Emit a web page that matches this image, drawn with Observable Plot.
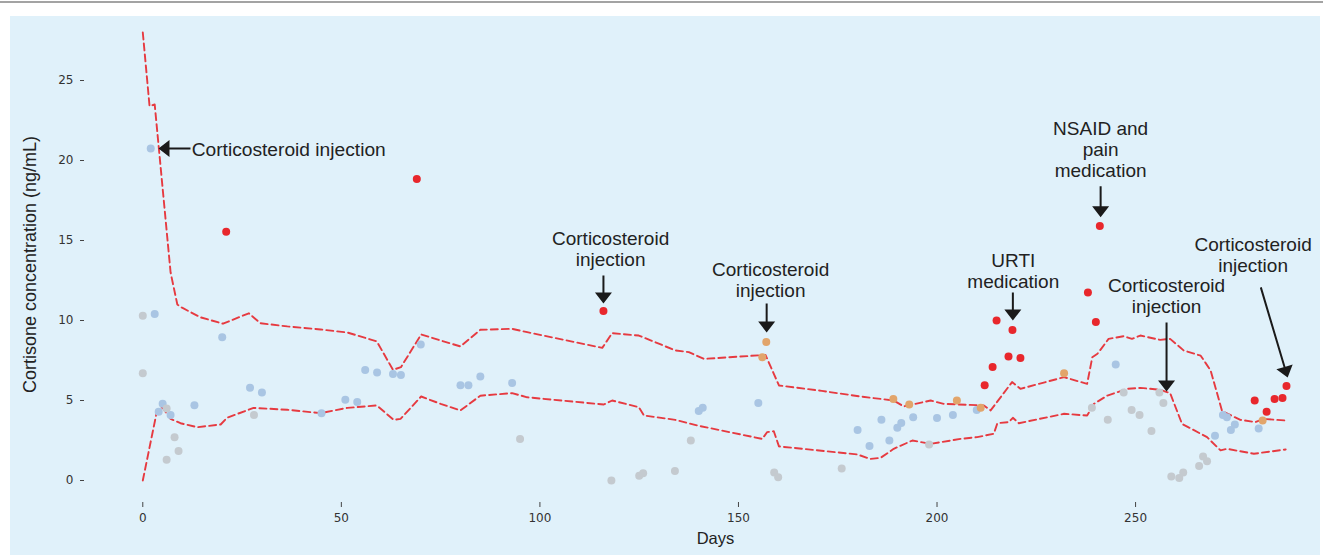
<!DOCTYPE html>
<html>
<head>
<meta charset="utf-8">
<script src="https://cdn.jsdelivr.net/npm/d3@7"></script>
<script src="https://cdn.jsdelivr.net/npm/@observablehq/plot@0.6"></script>
<style>
  html, body { margin: 0; padding: 0; background: #ffffff; }
  #rule { position: absolute; left: 0; top: 1px; width: 1323px; height: 2px; background: #a3a3a3; }
  #panel { position: absolute; left: 10px; top: 16px; width: 1310px; height: 539px; background: #e0f1fa; }
</style>
</head>
<body>
<div id="rule"></div>
<div id="panel"></div>
<script>
// Cortisone concentration (ng/mL) by day, grouped by sample status
const routineDay  = [2, 3, 4, 5, 7, 13, 20, 27, 30, 45, 51, 54, 56, 59, 63, 65, 70, 80, 82, 85, 93, 140, 141, 155, 180, 183, 186, 188, 190, 191, 194, 200, 204, 210, 245, 270, 272, 273, 274, 275, 281];
const routineConc = [20.75, 10.4, 4.3, 4.8, 4.1, 4.7, 8.95, 5.8, 5.5, 4.2, 5.05, 4.9, 6.9, 6.75, 6.65, 6.6, 8.5, 5.95, 5.95, 6.5, 6.1, 4.35, 4.55, 4.85, 3.15, 2.15, 3.8, 2.5, 3.3, 3.6, 3.95, 3.9, 4.1, 4.4, 7.25, 2.8, 4.1, 3.95, 3.15, 3.5, 3.25];

const excludedDay  = [0, 0, 6, 6, 8, 9, 28, 95, 118, 125, 126, 134, 138, 159, 160, 176, 198, 239, 243, 247, 249, 251, 254, 256, 257, 259, 261, 262, 266, 267, 268];
const excludedConc = [10.3, 6.7, 4.5, 1.3, 2.7, 1.85, 4.1, 2.6, 0.0, 0.3, 0.45, 0.6, 2.5, 0.5, 0.2, 0.75, 2.25, 4.55, 3.8, 5.5, 4.4, 4.1, 3.1, 5.5, 4.85, 0.25, 0.15, 0.5, 0.9, 1.5, 1.2];

const borderlineDay  = [156, 157, 189, 193, 205, 211, 232, 282];
const borderlineConc = [7.7, 8.65, 5.1, 4.75, 5.0, 4.55, 6.7, 3.75];

const elevatedDay  = [21, 69, 116, 212, 214, 215, 218, 219, 221, 238, 240, 241, 280, 283, 285, 287, 288];
const elevatedConc = [15.55, 18.85, 10.6, 5.95, 7.1, 10.0, 7.75, 9.4, 7.65, 11.75, 9.9, 15.9, 5.0, 4.3, 5.1, 5.15, 5.9];

// Upper and lower limits of the individual reference range
const upperDay  = [0, 1.7, 3.0, 7.0, 8.7, 9.9, 14.5, 20.2, 26.7, 29.6, 36.4, 44.8, 51.5, 58.9, 63, 65, 70.1, 75, 80, 85, 93, 96.8, 115.7, 118.2, 124.9, 134.1, 137.5, 141.3, 156.8, 160.2, 171, 180.7, 189.1, 191.6, 198.4, 201.7, 211.8, 213.5, 218.9, 221, 232, 237.8, 239.1, 240.4, 243.2, 247, 249.1, 251.2, 256.2, 258.7, 262.1, 266.4, 268.9, 271.8, 276.4, 280.2, 282.3, 287.8];
const upperConc = [28.0, 23.4, 23.5, 13.0, 11.0, 10.8, 10.2, 9.8, 10.45, 9.83, 9.63, 9.44, 9.25, 8.7, 6.92, 7.08, 9.13, 8.75, 8.38, 9.42, 9.48, 9.27, 8.29, 9.21, 9.06, 8.13, 8.02, 7.6, 7.85, 5.94, 5.6, 5.25, 5.0, 4.63, 5.0, 4.79, 4.69, 4.38, 6.15, 5.73, 6.46, 6.04, 7.7, 7.92, 8.85, 9.02, 8.85, 9.06, 8.79, 8.85, 8.13, 7.8, 6.88, 4.33, 3.79, 3.65, 3.85, 3.75];

const lowerDay  = [0, 3.6, 4.9, 7, 9.5, 13.7, 19.6, 21.2, 27.9, 36.4, 44.8, 51.5, 58.9, 63.2, 64.9, 70.1, 75, 80, 85, 93, 96.8, 116.1, 118.2, 124.9, 126.2, 134.1, 139.6, 156, 157.2, 158.9, 160.2, 179.9, 183.2, 185.8, 189.1, 193.8, 198.4, 205.9, 210.1, 214.3, 215.2, 218.1, 219.1, 220.6, 232, 237.8, 239.5, 242.9, 247.9, 251.2, 256.2, 258.7, 261.7, 268, 271.4, 273, 279.8, 287.8];
const lowerConc = [0, 4.38, 4.58, 3.85, 3.58, 3.33, 3.5, 3.92, 4.54, 4.42, 4.21, 4.54, 4.69, 3.79, 3.85, 5.25, 4.79, 4.38, 5.3, 5.46, 5.2, 4.75, 5.0, 4.58, 4.06, 3.79, 3.44, 2.6, 3.02, 3.08, 2.13, 1.63, 1.35, 1.42, 1.98, 2.5, 2.29, 2.6, 2.71, 2.92, 3.58, 3.65, 3.92, 3.58, 4.17, 4.06, 4.79, 5.31, 5.73, 5.79, 5.67, 5.46, 3.54, 2.71, 1.88, 1.98, 1.67, 1.94];

// Axis ticks
const xTicks = [0, 50, 100, 150, 200, 250];
const yTicks = [0, 5, 10, 15, 20, 25];

// Event annotations: label position and arrow (tip position, length in px, angle)
const noteText  = ["Corticosteroid injection", "Corticosteroid\ninjection", "Corticosteroid\ninjection", "URTI\nmedication", "NSAID and\npain\nmedication", "Corticosteroid\ninjection", "Corticosteroid\ninjection"];
const noteDay   = [12.3, 117.8, 158.1, 219.2, 241.2, 257.8, 279.6];
const noteConc  = [20.69, 14.47, 12.53, 13.13, 20.69, 11.53, 14.09];
const tipDay    = [3.95, 116.0, 157.1, 219.1, 241.2, 257.8, 288.3];
const tipConc   = [20.75, 11.06, 9.25, 10.0, 16.46, 5.56, 6.44];
const arrowLen  = [32, 28, 29, 28, 31, 69, 94];
const arrowRot  = [-90, 180, 180, 180, 180, 180, 163.4];

const groups = ["routine", "excluded", "borderline", "elevated"];
const groupColors = ["#a9c5e3", "#c4cacf", "#e2a56b", "#e8272c"];

const toRows = (days, concs, group) => days.map((d, i) => ({day: d, conc: concs[i], group}));
const samples = [
  ...toRows(routineDay, routineConc, "routine"),
  ...toRows(excludedDay, excludedConc, "excluded"),
  ...toRows(borderlineDay, borderlineConc, "borderline"),
  ...toRows(elevatedDay, elevatedConc, "elevated")
];
const upper = toRows(upperDay, upperConc, "upper");
const lower = toRows(lowerDay, lowerConc, "lower");
const notes = noteText.map((t, i) => ({
  text: t, day: noteDay[i], conc: noteConc[i],
  tipDay: tipDay[i], tipConc: tipConc[i], len: arrowLen[i], angle: arrowRot[i]
}));

// Filled arrow: thin shaft with a triangular head, drawn pointing up from the base
const filledArrow = {
  draw(context, l) {
    const hl = 11, hw = 8.5, w = 1;
    context.moveTo(-w, 0);
    context.lineTo(-w, -l + hl);
    context.lineTo(-hw, -l + hl);
    context.lineTo(0, -l);
    context.lineTo(hw, -l + hl);
    context.lineTo(w, -l + hl);
    context.lineTo(w, 0);
    context.closePath();
  }
};

const labelFont = "'Liberation Sans', Arial, Helvetica, sans-serif";

const chart = Plot.plot({
  width: 1310,
  height: 539,
  marginLeft: 74,
  marginRight: 10,
  marginTop: 8,
  marginBottom: 53,
  style: {background: "transparent", fontFamily: "'DejaVu Sans', sans-serif", fontSize: "12px", color: "#333", overflow: "visible"},
  x: {domain: [-14.68, 294.05]},
  y: {domain: [-1.375, 28.5]},
  color: {domain: groups, range: groupColors},
  length: {type: "identity"},
  marks: [
    Plot.axisY({ticks: yTicks, tickSize: 4, tickPadding: 7, label: null, stroke: "#444", fill: "#333", fontSize: 12}),
    Plot.axisX({ticks: xTicks, tickSize: 5, tickPadding: 6, label: null, stroke: "#444", fill: "#333", fontSize: 12}),
    Plot.line(upper, {x: "day", y: "conc", stroke: "#e63a40", strokeWidth: 1.9, strokeDasharray: "7,4"}),
    Plot.line(lower, {x: "day", y: "conc", stroke: "#e63a40", strokeWidth: 1.9, strokeDasharray: "7,4"}),
    Plot.dot(samples, {x: "day", y: "conc", r: 4, fill: "group", stroke: "none"}),
    Plot.vector(notes, {x: "tipDay", y: "tipConc", length: "len", rotate: "angle", anchor: "end", shape: filledArrow, fill: "#1a1a1a", stroke: "none"}),
    Plot.text(notes.slice(0, 1), {x: "day", y: "conc", text: "text", textAnchor: "start", fontSize: 19.2, fontFamily: labelFont, fill: "#222"}),
    Plot.text(notes.slice(1), {x: "day", y: "conc", text: "text", textAnchor: "middle", lineAnchor: "middle", lineHeight: 1.1, fontSize: 19, fontFamily: labelFont, fill: "#222"}),
    Plot.text(["Days"], {frameAnchor: "bottom", dx: 18, dy: 41, text: d => d, fontSize: 16.5, fontFamily: labelFont, fill: "#222"}),
    Plot.text(["Cortisone concentration (ng/mL)"], {frameAnchor: "left", textAnchor: "middle", lineAnchor: "middle", dx: -54, dy: 1, rotate: -90, text: d => d, fontSize: 18, fontFamily: labelFont, fill: "#222"})
  ]
});

document.getElementById("panel").appendChild(chart);
</script>
</body>
</html>
